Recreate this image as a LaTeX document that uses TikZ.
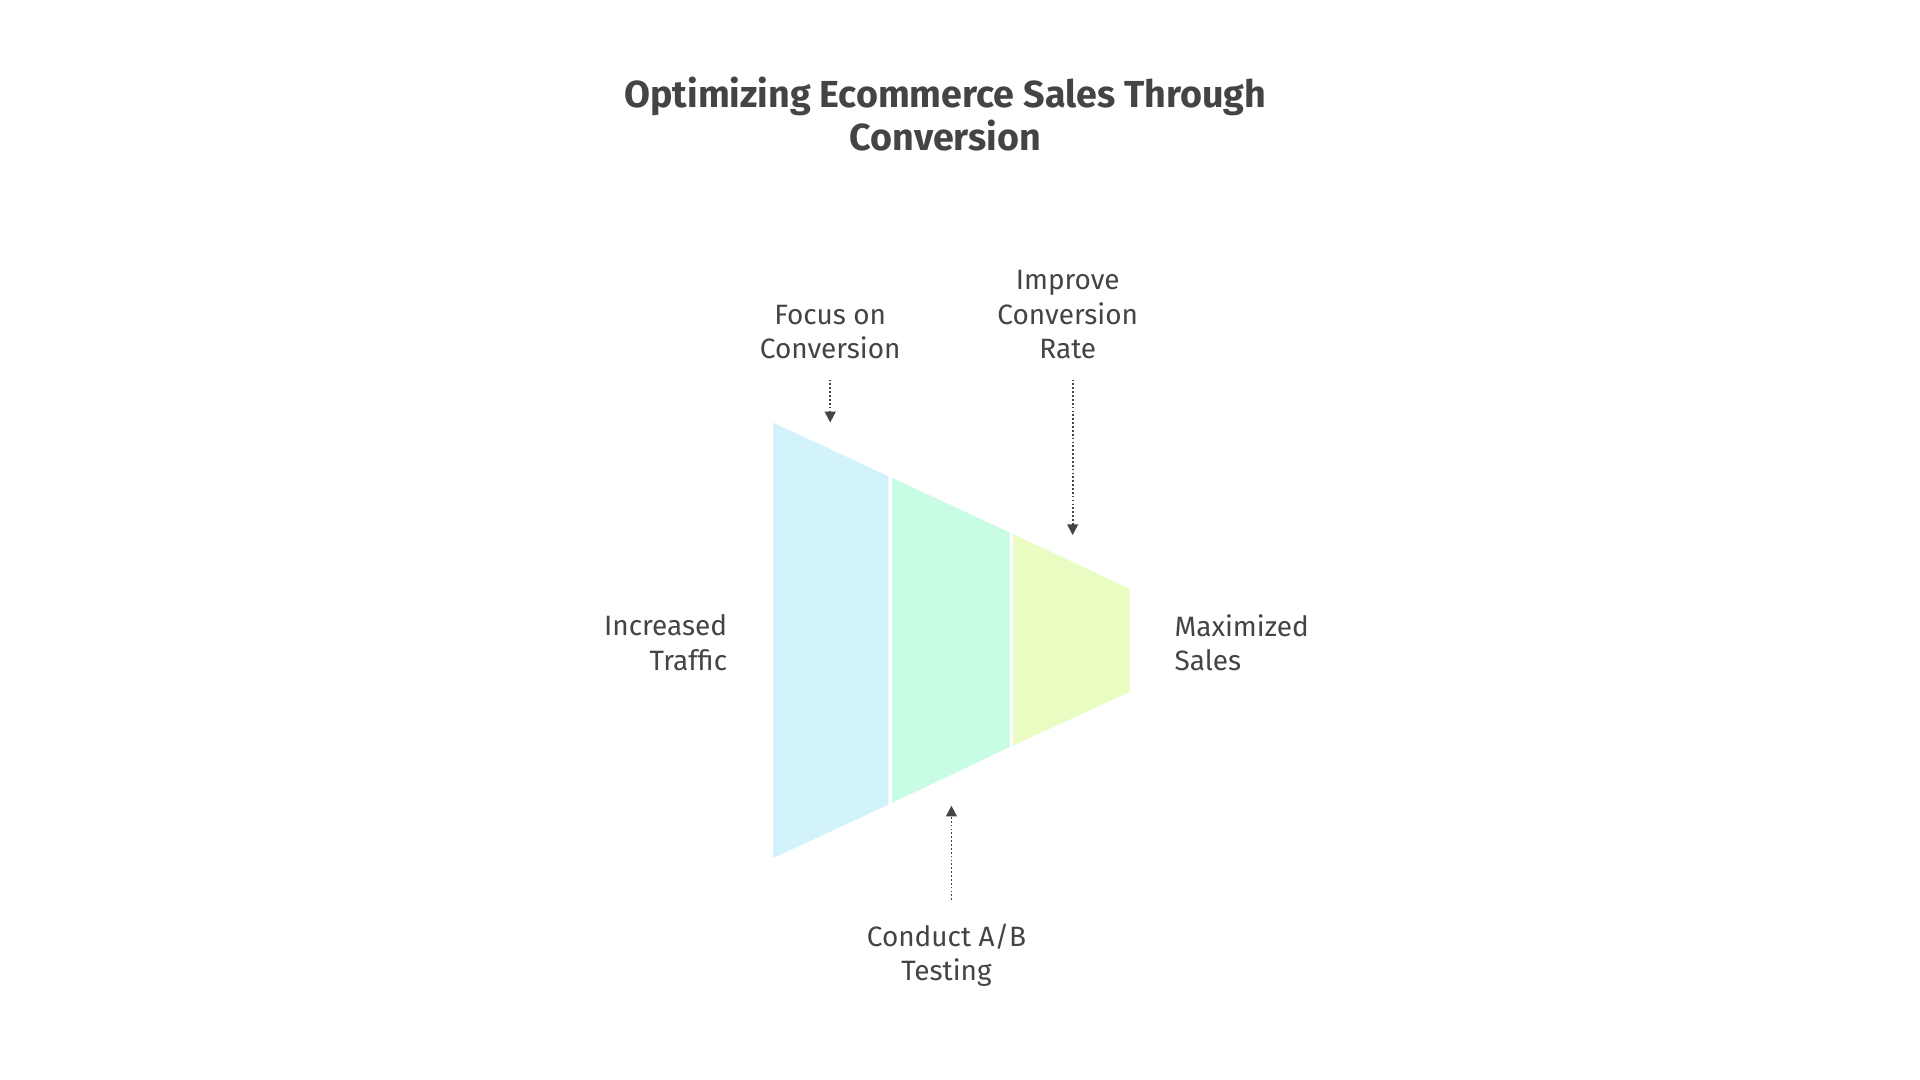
\documentclass[tikz,border=0pt]{standalone}
\usepackage{fontspec}
\setmainfont{Fira Sans}
\usetikzlibrary{arrows.meta}
\definecolor{txt}{HTML}{444444}
\definecolor{cA}{HTML}{D3F3FC}
\definecolor{cB}{HTML}{C8FCE3}
\definecolor{cC}{HTML}{E9FCC2}
\tikzset{lbl/.style={text=txt,font=\fontsize{13}{16}\selectfont,align=center},
 arr/.style={draw=txt,densely dotted,line width=0.8pt,-{Triangle[length=5pt,width=5pt]}},
 seg/.style={draw=white,line width=1.5pt}}
\begin{document}
\begin{tikzpicture}[x=0.02cm,y=-0.02cm]
\useasboundingbox (0,0) rectangle (1568,882);
\fill[white] (0,0) rectangle (1568,882);
\filldraw[seg,fill=cA] (630,343) -- (727,388) -- (727,658) -- (630,703) -- cycle;
\filldraw[seg,fill=cB] (727,388) -- (826,434) -- (826,611) -- (727,658) -- cycle;
\filldraw[seg,fill=cC] (826,434) -- (924,480) -- (924,566) -- (826,611) -- cycle;
\node[text=txt,font=\fontsize{17.5}{20}\selectfont\bfseries,align=center] (title) at (772,93) {Optimizing Ecommerce Sales Through\\Conversion};
\node[lbl] (focus) at (678,271) {Focus on\\Conversion};
\node[lbl] (improve) at (872,257) {Improve\\Conversion\\Rate};
\node[lbl] (ab) at (773,780) {Conduct A/B\\Testing};
\node[lbl,align=right,anchor=east] (inc) at (600,525) {Increased\\Traffic};
\node[lbl,align=left,anchor=west] (max) at (953,525) {Maximized\\Sales};
\coordinate (f1) at (678,310); \coordinate (f2) at (678,345);
\coordinate (i1) at (876,310); \coordinate (i2) at (876,437);
\coordinate (a1) at (777,735); \coordinate (a2) at (777,658);
\draw[arr] (f1) -- (f2);
\draw[arr] (i1) -- (i2);
\draw[arr] (a1) -- (a2);
\end{tikzpicture}
\end{document}
